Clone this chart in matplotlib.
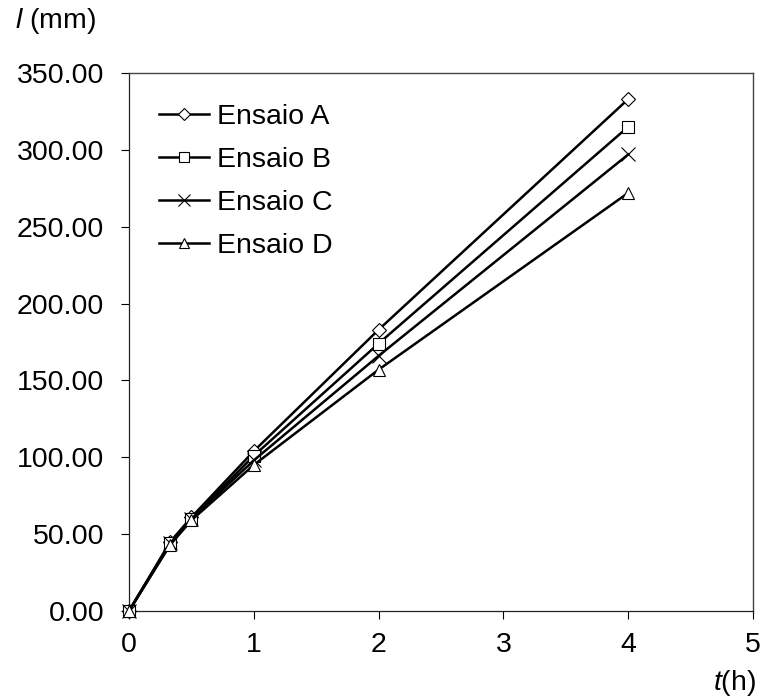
import matplotlib
matplotlib.use("Agg")
import matplotlib.pyplot as plt

plt.rcParams['font.family'] = ['Liberation Sans', 'DejaVu Sans']
plt.rcParams['mathtext.fontset'] = 'custom'
plt.rcParams['mathtext.rm'] = 'Liberation Sans'
plt.rcParams['mathtext.it'] = 'Liberation Sans:italic'

t_hours = [0, 0.33, 0.5, 1, 2, 4]
ensaio_a = [0, 45, 61, 104, 183, 333]
ensaio_b = [0, 44, 60, 101, 174, 315]
ensaio_c = [0, 44, 60, 98, 166, 297]
ensaio_d = [0, 43, 59, 95, 157, 272]
labels = ["Ensaio A", "Ensaio B", "Ensaio C", "Ensaio D"]
markers = ["D", "s", "x", "^"]
x_ticks = [0, 1, 2, 3, 4, 5]
y_ticks = [0, 50, 100, 150, 200, 250, 300, 350]

FS = 20.5
fig = plt.figure(figsize=(7.62, 7.00), dpi=100)
ax = fig.add_axes([129/762, 1-611/700, (753-129)/762, (611-73)/700])

msizes = {"D": 7, "s": 8, "x": 10, "^": 9}
for ys, lab, m in zip([ensaio_a, ensaio_b, ensaio_c, ensaio_d], labels, markers):
    ax.plot(t_hours, ys, color='black', lw=1.8, marker=m, markersize=msizes[m],
            markerfacecolor='white', markeredgecolor='black', markeredgewidth=0.8,
            label=lab, clip_on=False, zorder=3)

ax.set_xlim(0, 5)
ax.set_ylim(0, 350)
ax.set_xticks(x_ticks)
ax.set_xticklabels([str(v) for v in x_ticks])
ax.set_yticks(y_ticks)
ax.set_yticklabels([f"{v:.2f}" for v in y_ticks])
ax.tick_params(axis='both', direction='out', length=6, width=0.8, labelsize=FS,
               pad=9, colors='black')
ax.tick_params(axis='y', pad=12)
ax.tick_params(top=False, right=False)
for s in ['left', 'bottom']:
    ax.spines[s].set_linewidth(0.9)
    ax.spines[s].set_color('#222222')
for s in ['top', 'right']:
    ax.spines[s].set_linewidth(1.0)
    ax.spines[s].set_color('#444444')

leg = ax.legend(loc='upper left', bbox_to_anchor=(0.030, 0.964), frameon=False,
                fontsize=FS, handlelength=1.75, handletextpad=0.3, labelspacing=0.6,
                borderaxespad=0, markerscale=0.85)

fig.text(15/762, 1-21/700, "$l$ (mm)", fontsize=FS, ha='left', va='center')
fig.text(756/762, 1-683/700, "$t$(h)", fontsize=FS, ha='right', va='center')

fig.savefig("out.png", dpi=100)
